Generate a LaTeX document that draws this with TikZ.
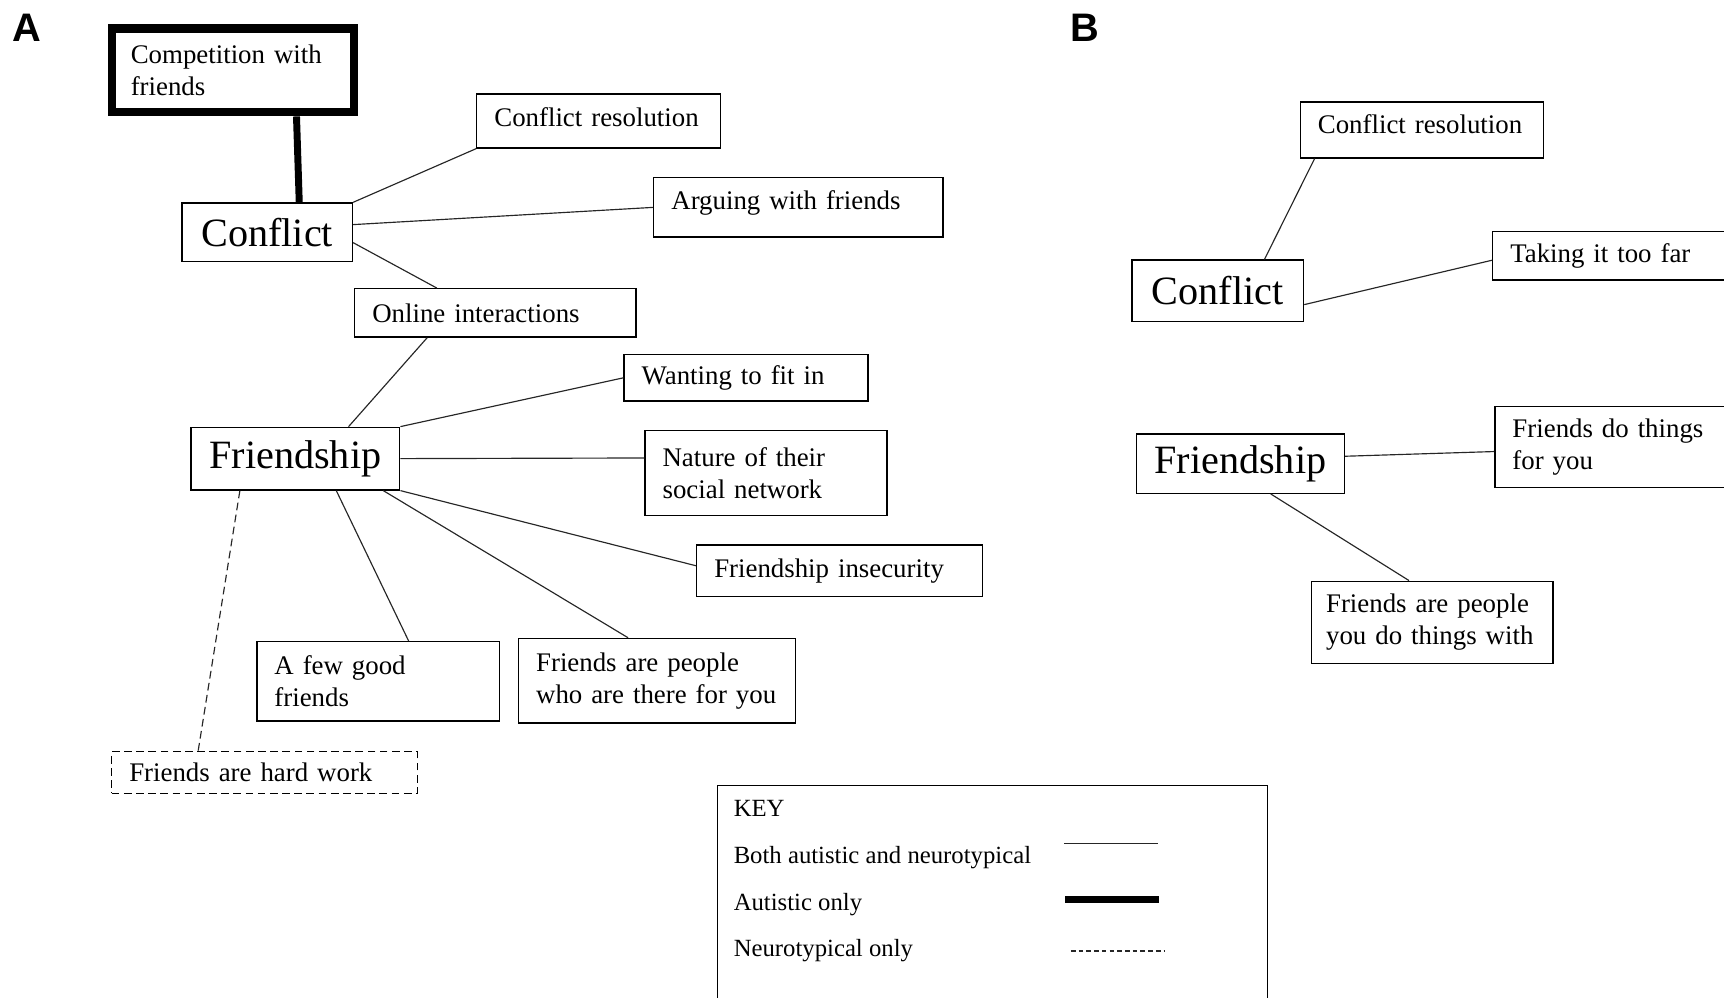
\documentclass[tikz,border=0pt]{standalone}
\usepackage{fontspec}
\setmainfont{Liberation Serif}
\newfontfamily\panelfont{Liberation Sans}
\usetikzlibrary{positioning,calc}

\begin{document}
\begin{tikzpicture}[
    x=0.02cm, y=-0.02cm,
    theme/.style={draw, rectangle, anchor=north west, align=left, line width=0.7pt, inner xsep=0.32cm, inner ysep=0pt, text width=#1, font=\fontsize{13.9}{16.5}\selectfont},
    main/.style={draw, rectangle, anchor=north west, inner sep=0pt, line width=0.7pt, font=\fontsize{20.8}{25}\selectfont},
    edge/.style={draw=black!85, line width=0.6pt},
    strong/.style={draw=black, line width=3.6pt},
    ntonly/.style={draw=black!85, line width=0.6pt, dash pattern=on 4pt off 2.3pt},
    panel/.style={font=\panelfont\bfseries\fontsize{20.6}{24}\selectfont},
    keytext/.style={anchor=west, inner sep=0pt, font=\fontsize{12.8}{15}\selectfont},
]

\useasboundingbox (0,0) rectangle (1568,907);
\clip (0,0) rectangle (1568,907);

% Panel A
\node[panel] (labA) at (24,25) {A};
\node[theme=3.72cm, line width=4.5pt, inner xsep=0.34cm, minimum height=1.52cm] (comp) at (98,22) {Competition with\\friends};
\node[main, minimum width=3.1cm, minimum height=1.06cm] (conA) at (165,184) {Conflict};
\node[theme=3.8cm, minimum height=0.98cm, text depth=4.5pt] (resA) at (433,85) {Conflict resolution};
\node[theme=4.62cm, minimum height=1.08cm, text depth=7.5pt] (argue) at (594,161) {Arguing with friends};
\node[theme=4.48cm, minimum height=0.88cm] (online) at (322,262) {Online interactions};
\node[main, minimum width=3.8cm, minimum height=1.14cm] (friA) at (173,388) {Friendship};
\node[theme=3.8cm, minimum height=0.84cm] (fitin) at (567,322) {Wanting to fit in};
\node[theme=3.76cm, minimum height=1.54cm] (network) at (586,391) {Nature of their\\social network};
\node[theme=4.56cm, minimum height=0.94cm] (insecure) at (633,495) {Friendship insecurity};
\node[theme=3.78cm, minimum height=1.44cm] (fewgood) at (233,583) {A few good\\friends};
\node[theme=4.4cm, minimum height=1.54cm] (thereA) at (471,580) {Friends are people\\who are there for you};
\node[theme=4.92cm, dash pattern=on 4pt off 2.3pt, minimum height=0.76cm] (hardwork) at (101,683) {Friends are hard work};

\draw[strong] (comp.-36) -- (conA.43);
\draw[edge] (conA.north east) -- (resA.south west);
\draw[edge] (conA.5) -- (argue.west);
\draw[edge] (conA.-7) -- (online.157);
\draw[edge] (online.200) -- (friA.31);
\draw[edge] (friA.north east) -- (fitin.west);
\draw[edge] (friA.east) -- (network.173);
\draw[edge] (friA.south east) -- (insecure.178);
\draw[edge] (friA.-20) -- (thereA.124);
\draw[edge] (friA.-38) -- (fewgood.53);
\draw[ntonly] (friA.210) -- (hardwork.162);

% Panel B
\node[panel] (labB) at (987,25) {B};
\node[theme=3.78cm, minimum height=1.02cm, text depth=5.7pt] (resB) at (1182,92) {Conflict resolution};
\node[main, minimum width=3.12cm, minimum height=1.12cm] (conB) at (1029,236) {Conflict};
\node[theme=4.0cm, minimum height=0.88cm] (toofar) at (1357,210) {Taking it too far};
\node[main, minimum width=3.78cm, minimum height=1.08cm] (friB) at (1033,394) {Friendship};
\node[theme=4.0cm, minimum height=1.48cm] (dothings) at (1359,369) {Friends do things\\for you};
\node[theme=3.86cm, inner xsep=0.27cm, minimum height=1.5cm] (withyou) at (1192,528) {Friends are people\\you do things with};

\draw[edge] (conB.34) -- (resB.195);
\draw[edge] (conB.-9) -- (toofar.182);
\draw[edge] (friB.4) -- (dothings.182);
\draw[edge] (friB.-45) -- (withyou.119);

% Key
\node[draw, line width=0.7pt, anchor=north west, inner sep=0pt, minimum width=10cm, minimum height=4.3cm] (key) at (652,714) {};
\node[keytext] (keyhead) at (667,735) {KEY};
\node[keytext] (keyboth) at (667,780) {Both autistic and neurotypical};
\node[keytext] (keyaut) at (667,823) {Autistic only};
\node[keytext] (keynt) at (667,865) {Neurotypical only};
\draw[edge] (968,767) -- (1053,767);
\draw[strong] (969,818) -- (1054,818);
\draw[ntonly, dash pattern=on 2.4pt off 1.6pt] (974,865) -- (1059,865);

\end{tikzpicture}
\end{document}
